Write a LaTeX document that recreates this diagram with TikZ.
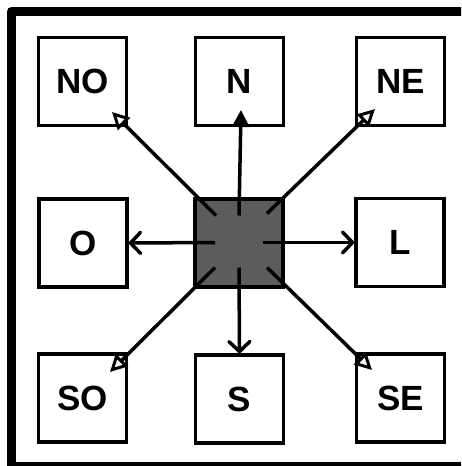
\documentclass[tikz,border=0pt]{standalone}
\usepackage{fontspec}
\setmainfont{Liberation Sans}
\usetikzlibrary{arrows.meta,calc}
\begin{document}
\begin{tikzpicture}[x=1pt,y=-1pt,
  box/.style={draw,line width=3.5pt,minimum size=88pt,inner sep=0pt,
    font=\fontsize{35}{40}\selectfont\bfseries},
  cbox/.style={draw,line width=4pt,minimum size=88pt,inner sep=0pt,fill=black!64},
  arr/.style={line width=3.5pt},
  hollowtip/.style={arr,-{Triangle[open,length=17pt,width=17pt,line width=3pt]}},
  filltip/.style={arr,-{Triangle[length=17pt,width=17pt]}},
  barbtip/.style={arr,-{Straight Barb[length=10pt,width=21pt,line width=3.5pt,round]}}]
\useasboundingbox (0,0) rectangle (461,466);
\clip (0,0) rectangle (461,466);
\fill[white] (0,0) rectangle (461,466);
\draw[line width=9pt,line join=round] (11.5,11.5) rectangle (475,466.5);
\node[box] (NO) at (82.5,81.5) {NO};
\node[box] (N)  at (239.5,81.5) {N};
\node[box] (NE) at (400.5,81.5) {NE};
\node[box] (O)  at (83,243) {O};
\node[box] (L)  at (400,242.5) {L};
\node[box] (SO) at (82.5,398) {SO};
\node[box] (S)  at (239.5,399) {S};
\node[box] (SE) at (400.5,398) {SE};
\node[cbox] (C) at (239,242.5) {};
\coordinate (sN)  at ($(C)+(0,-27)$);
\coordinate (sS)  at ($(C)+(0,25)$);
\coordinate (sO)  at ($(C)+(-24,0)$);
\coordinate (sL)  at ($(C)+(24,0)$);
\coordinate (sNO) at ($(C)+(-23,-27)$);
\coordinate (sNE) at ($(C)+(28,-29)$);
\coordinate (sSO) at ($(C)+(-24,25)$);
\coordinate (sSE) at ($(C)+(28,25)$);
\coordinate (eNO) at ($(NO)+(29.5,30.5)$);
\coordinate (eN)  at ($(N)+(1.5,28.5)$);
\coordinate (eNE) at ($(NE)+(-25.5,27.5)$);
\coordinate (eSO) at ($(SO)+(27.5,-26)$);
\coordinate (eSE) at ($(SE)+(-28.5,-28)$);
\draw[hollowtip] (sNO) -- (eNO);
\draw[filltip] (sN) -- (eN);
\draw[hollowtip] (sNE) -- (eNE);
\draw[hollowtip] (sSO) -- (eSO);
\draw[hollowtip] (sSE) -- (eSE);
\draw[barbtip] (sO) -- (O.east);
\draw[barbtip] (sL) -- (L.west);
\draw[barbtip] (sS) -- (S.north);
\end{tikzpicture}
\end{document}
